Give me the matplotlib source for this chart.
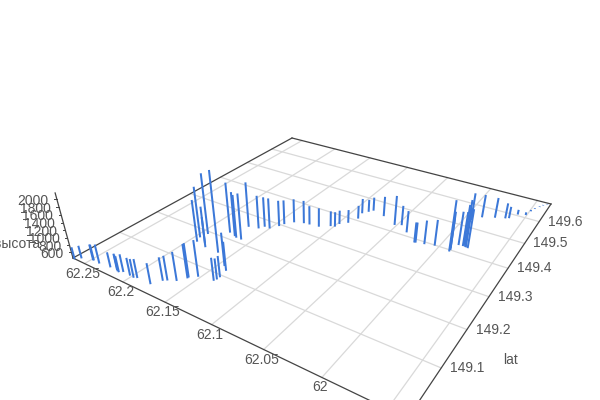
import numpy as np
import matplotlib
matplotlib.use('Agg')
import matplotlib.pyplot as plt

plt.rcParams['font.family'] = ['Liberation Sans', 'DejaVu Sans']

# track values, one vertical line per point
lon = [62.263, 62.259, 62.248, 62.247, 62.239, 62.226, 62.218, 62.216, 62.214, 62.211,
       62.202, 62.197, 62.194, 62.178, 62.173, 62.170, 62.163, 62.158, 62.158, 62.152,
       62.137, 62.136, 62.136, 62.138, 62.144, 62.163, 62.179, 62.184, 62.192, 62.195,
       62.193, 62.177, 62.169, 62.166, 62.160, 62.169, 62.159, 62.156, 62.150, 62.145,
       62.143, 62.137, 62.128, 62.122, 62.112, 62.103, 62.099, 62.098, 62.092, 62.088,
       62.090, 62.086, 62.083, 62.069, 62.052, 62.046, 62.036, 62.021, 62.022, 62.013,
       62.004, 61.989, 61.989, 61.990, 61.986, 61.982, 61.980, 61.982, 61.979, 61.977,
       61.993, 61.986, 61.975, 61.966, 61.963, 61.958, 61.951, 61.949, 61.947, 61.944,
       61.942, 61.939]
lat = [148.989, 148.998, 149.006, 149.006, 149.005, 149.008, 149.009, 149.007, 149.006, 149.011,
       149.010, 149.009, 149.012, 149.012, 149.031, 149.036, 149.044, 149.060, 149.063, 149.074,
       149.080, 149.086, 149.094, 149.115, 149.125, 149.152, 149.153, 149.163, 149.159, 149.174,
       149.192, 149.220, 149.215, 149.212, 149.212, 149.258, 149.264, 149.276, 149.276, 149.294,
       149.306, 149.323, 149.331, 149.333, 149.336, 149.351, 149.354, 149.368, 149.382, 149.408,
       149.432, 149.445, 149.455, 149.446, 149.426, 149.433, 149.413, 149.388, 149.387, 149.392,
       149.398, 149.394, 149.400, 149.406, 149.425, 149.426, 149.426, 149.431, 149.425, 149.424,
       149.530, 149.553, 149.566, 149.575, 149.580, 149.605, 149.612, 149.634, 149.649, 149.663,
       149.674, 149.683]
alt = [773, 790, 874, 873, 960, 850, 883, 890, 874, 919,
       917, 942, 949, 997, 1062, 1095, 1205, 1343, 1346, 1405,
       1051, 1000, 1009, 1216, 1333, 2589, 1271, 1454, 1592, 1835,
       2106, 1830, 1664, 1626, 1710, 1695, 1370, 1284, 1298, 1170,
       1128, 1110, 1089, 973, 974, 869, 860, 830, 813, 816,
       867, 800, 831, 1010, 1274, 1001, 1049, 1003, 1003, 1100,
       1155, 1816, 1484, 1267, 1360, 1377, 1708, 1537, 1506, 1505,
       1216, 1094, 1019, 882, 775, 581, 521, 479, 461, 458,
       455, 452]

lon_ticks = [62.25, 62.2, 62.15, 62.1, 62.05, 62]
lon_labels = ['62.25', '62.2', '62.15', '62.1', '62.05', '62']
lat_ticks = [149.1, 149.2, 149.3, 149.4, 149.5, 149.6]
lat_labels = ['149.1', '149.2', '149.3', '149.4', '149.5', '149.6']
alt_ticks = [600, 800, 1000, 1200, 1400, 1600, 1800, 2000]

lon_min, lon_max = 61.936, 62.266
lat_min, lat_max = 148.99, 149.69
alt_floor, alt_top = 440, 2150

# camera: floor corners on the canvas plus the vanishing point of the verticals
corners = [(lon_max, lat_min), (lon_min, lat_min), (lon_min, lat_max), (lon_max, lat_max)]
corners_px = [(73, 258), (407.4, 418.5), (551, 204), (292, 138)]
vanish = np.array([318, 1150, 1.0])
A, b = [], []
for (u, v), (x, y) in zip(corners, corners_px):
    A.append([u, v, 1, 0, 0, 0, -u * x, -v * x])
    b.append(x)
    A.append([0, 0, 0, u, v, 1, -u * y, -v * y])
    b.append(y)
H = np.append(np.linalg.solve(np.array(A), np.array(b)), 1).reshape(3, 3)
w_left = (H @ np.array([lon_max, lat_min, 1]))[2]


def project(lo, la, z=alt_floor):
    p = H @ np.array([lo, la, 1]) - w_left * (z - alt_floor) / 25160 * vanish
    return p[0] / p[2], p[1] / p[2]


def line3d(p0, p1, **kw):
    x0, y0 = project(*p0)
    x1, y1 = project(*p1)
    ax.plot([x0, x1], [y0, y1], **kw)


fig = plt.figure(figsize=(6, 4), dpi=100)
ax = fig.add_axes([0, 0, 1, 1])
ax.set_xlim(0, 600)
ax.set_ylim(400, 0)
ax.axis('off')

# floor grid
grid = dict(color='#d9d9d9', lw=0.9, zorder=1)
for lo in lon_ticks + [61.95]:
    line3d((lo, lat_min), (lo, lat_max), **grid)
for la in lat_ticks:
    line3d((lon_min, la), (lon_max, la), **grid)

# box edges
edge = dict(color='#444444', lw=0.9, zorder=2)
line3d((lon_max, lat_min), (lon_min, lat_min), **edge)
line3d((lon_min, lat_min), (lon_min, lat_max), **edge)
line3d((lon_min, lat_max), (lon_max, lat_max), **edge)
line3d((lon_max, lat_max), (lon_max, lat_min), **edge)
line3d((lon_max, lat_min, alt_floor), (lon_max, lat_min, alt_top), **edge)

for lo, la, z in zip(lon, lat, alt):
    line3d((lo, la, alt_floor), (lo, la, z), color='#3c78d8', lw=1.45, zorder=3,
           solid_capstyle='butt')

txt = dict(color='#555555', fontsize=10, va='center')
for t, s in zip(lon_ticks, lon_labels):
    x, y = project(t, lat_min)
    ax.text(x - 2, y + 10, s, ha='center', **txt)
for t, s in zip(lat_ticks, lat_labels):
    x, y = project(lon_min, t)
    ax.text(x + 26, y, s, ha='center', **txt)
for t in alt_ticks:
    x, y = project(lon_max, lat_min, t)
    ax.plot([x - 2.5, x], [y, y], color='#444444', lw=0.7, zorder=2)
    ax.text(x - 8, y + 1.5, str(t), ha='right', **txt)

ax.text(511, 360, 'lat', ha='center', **txt)
ax.text(40, 244, 'высота', ha='right', **txt)

fig.savefig('out.png', dpi=100)
